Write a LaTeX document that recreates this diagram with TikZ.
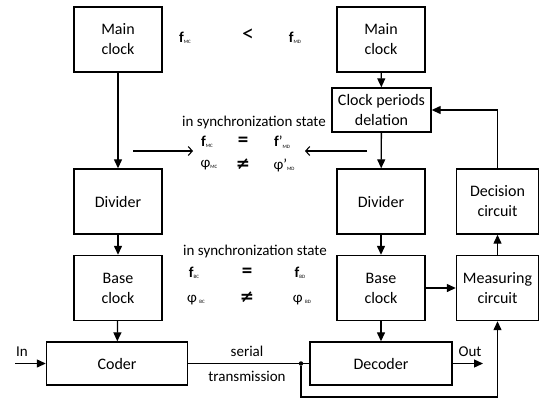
\documentclass[tikz,border=0pt]{standalone}
\usepackage{fontspec}
\setmainfont{Carlito}
\newfontfamily\relfont{DejaVu Sans}
\usetikzlibrary{arrows.meta}

% small index after a symbol, as in f_MC
\newcommand{\lowidx}[1]{\raisebox{-1.5pt}{\fontsize{5}{5}\selectfont #1}}

\begin{document}
\begin{tikzpicture}[x=1pt, y=-1pt,
    block/.style={draw, line width=1.4pt, minimum width=88pt, minimum height=65pt,
                  align=center, inner sep=2pt, font=\fontsize{16}{20}\selectfont},
    wideblock/.style={block, minimum width=141pt, minimum height=43pt},
    flow/.style={line width=1.3pt, -{Triangle[length=9pt,width=8pt]}},
    hint/.style={line width=1.1pt, -{Straight Barb[length=4pt,width=9pt]}},
    sym/.style={inner sep=0pt, font=\fontsize{15}{17}\selectfont},
    rel/.style={inner sep=0pt, font=\fontsize{21}{21}\selectfont\bfseries},
    note/.style={inner sep=0pt, font=\fontsize{15}{17}\selectfont}]

    % columns and rows
    \def\xl{118}
    \def\xr{381}
    \def\xm{497.5}
    \def\yclk{39.5}
    \def\ydiv{201.5}
    \def\ybase{288}
    \def\ycod{363.5}

    \useasboundingbox (0,0) rectangle (540,400);

    % Blocks, transmitter side
    \node[block] (mainL) at (\xl,\yclk)  {Main\\clock};
    \node[block] (divL)  at (\xl,\ydiv)  {Divider};
    \node[block] (baseL) at (\xl,\ybase) {Base\\clock};
    \node[wideblock] (coder) at (117,\ycod) {Coder};

    % Blocks, receiver side
    \node[block] (mainR) at (\xr,\yclk)  {Main\\clock};
    \node[block, minimum width=99pt, minimum height=44pt] (delay) at (381.5,110) {Clock periods\\delation};
    \node[block] (divR)  at (\xr,\ydiv)  {Divider};
    \node[block] (baseR) at (\xr,\ybase) {Base\\clock};
    \node[wideblock, minimum width=142pt] (decoder) at (\xr,\ycod) {Decoder};
    \node[block, minimum width=82pt] (decide)  at (\xm,\ydiv)  {Decision\\circuit};
    \node[block, minimum width=82pt] (measure) at (\xm,\ybase) {Measuring\\circuit};

    % Frequencies of the two main clocks
    \node[sym] (fmc) at (185,38) {\textbf{f}\lowidx{MC}};
    \node[rel, font=\fontsize{24}{24}\selectfont] (lt) at (248,35) {<};
    \node[sym] (fmd) at (295,38) {\textbf{f}\lowidx{MD}};

    % Sync state of the main clocks
    \node[note] (syncA) at (254,122) {in synchronization state};
    \node[sym] (fmcA)  at (207,142) {\textbf{f}\lowidx{MC}};
    \node[rel] (eqA)   at (243,142) {=};
    \node[sym] (fmdA)  at (282,142) {\textbf{f}’\lowidx{MD}};
    \node[sym] (pmcA)  at (209,165) {φ\lowidx{MC}};
    \node[sym, font=\fontsize{17}{17}\relfont\bfseries] (neA) at (243,164) {≠};
    \node[sym] (pmdA)  at (284,165) {φ’\lowidx{MD}};

    % Sync state of the base clocks
    \node[note] (syncB) at (255,251) {in synchronization state};
    \node[sym] (fbcB)  at (194,273) {\textbf{f}\lowidx{BC}};
    \node[rel] (eqB)   at (247,273) {=};
    \node[sym] (fbdB)  at (300,273) {\textbf{f}\lowidx{BD}};
    \node[sym] (pbcB)  at (196,300) {φ\,\lowidx{BC}};
    \node[sym, font=\fontsize{17}{17}\relfont\bfseries] (neB) at (247,297) {≠};
    \node[sym] (pbdB)  at (302,300) {φ\,\lowidx{BD}};

    % free ends
    \coordinate (inp)  at (15,\ycod);
    \coordinate (outp) at (483,\ycod);
    \coordinate (loop) at (0,397);
    \coordinate (hL0) at (133,151);
    \coordinate (hL1) at (193,151);
    \coordinate (hR0) at (367,151);
    \coordinate (hR1) at (305,151);
    \node[circle, fill, inner sep=0pt, minimum size=4.5pt] (tap) at (301,\ycod) {};

    % Vertical chains
    \draw[flow] (mainL) -- (divL);
    \draw[flow] (divL) -- (baseL);
    \draw[flow] (baseL) -- (coder);
    \draw[flow] (mainR) -- (delay);
    \draw[flow] (delay) -- (divR);
    \draw[flow] (divR) -- (baseR);
    \draw[flow] (baseR) -- (decoder);

    % Measuring and decision loop
    \draw[flow] (baseR) -- (measure);
    \draw[flow] (measure) -- (decide);
    \draw[flow] (decide.north) |- (delay.east);

    % Line
    \draw[flow] (inp) -- (coder.west);
    \draw[line width=1.3pt] (coder.east) -- (tap) -- (decoder.west);
    \draw[flow] (decoder.east) -- (outp);
    \draw[flow] (tap) |- (loop -| measure.south) -- (measure.south);
    \node[note, above] (lin)  at (22,357) {In};
    \node[note, above] (lout) at (470,357) {Out};
    \node[note] (ser) at (247,351) {serial};
    \node[note] (trn) at (247,376) {transmission};

    % pointers to the sync state
    \draw[hint] (hL0) -- (hL1);
    \draw[hint] (hR0) -- (hR1);

\end{tikzpicture}
\end{document}
